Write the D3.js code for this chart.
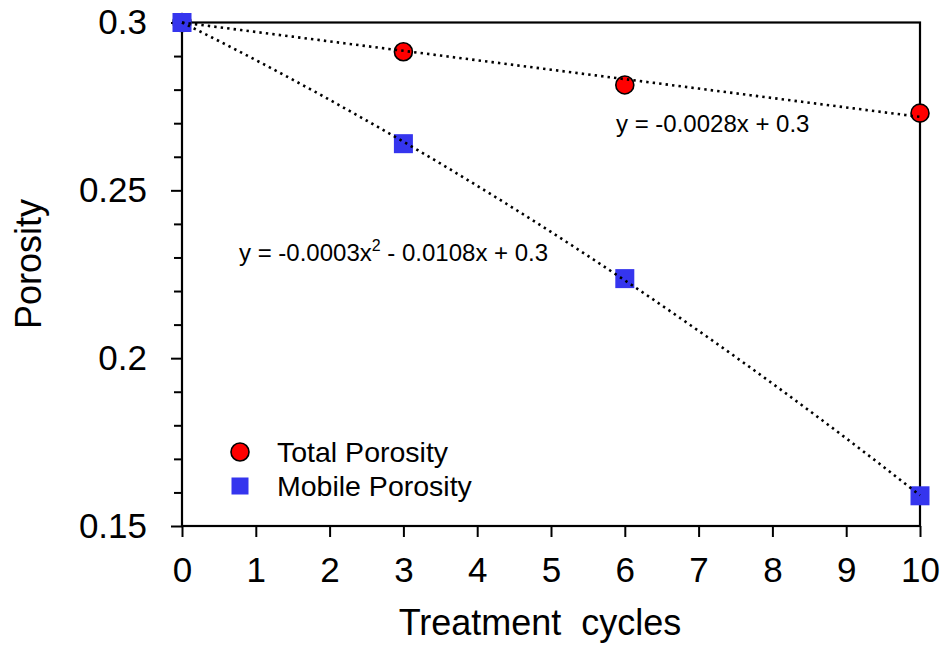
<!DOCTYPE html>
<html>
<head>
<meta charset="utf-8">
<script src="https://cdn.jsdelivr.net/npm/d3@7"></script>
<style>
  html, body { margin: 0; padding: 0; background: #fff; }
  svg { display: block; font-family: Arial, "Liberation Sans", sans-serif; }
  text { white-space: pre; }
</style>
</head>
<body>
<svg id="chart" width="945" height="646"></svg>
<script>
// Treatment cycles and measured porosity
const cycles = [0, 3, 6, 10];
const totalPorosity = [0.300, 0.2913, 0.2814, 0.2730];
const mobilePorosity = [0.300, 0.2639, 0.2237, 0.1590];

// Axis ticks
const xTicks = [0, 1, 2, 3, 4, 5, 6, 7, 8, 9, 10];
const yMajorTicks = [0.15, 0.2, 0.25, 0.3];
const yMajorLabels = ["0.15", "0.2", "0.25", "0.3"];
const yMinorTicks = [0.16, 0.17, 0.18, 0.19, 0.21, 0.22, 0.23, 0.24, 0.26, 0.27, 0.28, 0.29];

// Text
const legendLabels = ["Total Porosity", "Mobile Porosity"];
const xTitle = "Treatment  cycles";
const yTitle = "Porosity";
const totalEquation = "y = -0.0028x + 0.3";
const mobileEquation = ["y = -0.0003x", "2", " - 0.0108x + 0.3"];

const svg = d3.select("#chart");
const plotLeft = 182, plotRight = 920, plotTop = 22.5, plotBottom = 526;

const x = d3.scaleLinear().domain([0, 10]).range([plotLeft, plotRight]);
const y = d3.scaleLinear().domain([0.15, 0.3]).range([plotBottom, plotTop]);

// Least-squares polynomial fit with the intercept held at the first value
function fitThroughIntercept(xs, ys, degree) {
  const c = ys[0];
  const d = ys.map(v => v - c);
  if (degree === 1) {
    const b = d3.sum(xs, (v, i) => v * d[i]) / d3.sum(xs, v => v * v);
    return t => c + b * t;
  }
  const s2 = d3.sum(xs, v => v ** 2), s3 = d3.sum(xs, v => v ** 3), s4 = d3.sum(xs, v => v ** 4);
  const r2 = d3.sum(xs, (v, i) => v * v * d[i]), r1 = d3.sum(xs, (v, i) => v * d[i]);
  const det = s4 * s2 - s3 * s3;
  const a = (r2 * s2 - s3 * r1) / det;
  const b = (s4 * r1 - s3 * r2) / det;
  return t => c + a * t * t + b * t;
}

const totalFit = fitThroughIntercept(cycles, totalPorosity, 1);
const mobileFit = fitThroughIntercept(cycles, mobilePorosity, 2);

// Axes
const xAxis = d3.axisBottom(x).tickValues(xTicks).tickSize(11).tickPadding(20).tickFormat(d3.format("d"));
const gx = svg.append("g").attr("transform", `translate(0,${plotBottom})`).call(xAxis);
gx.select(".domain").remove();
gx.selectAll(".tick line").attr("stroke", "#000").attr("stroke-width", 2);
gx.selectAll(".tick text").attr("font-size", 35).attr("fill", "#000")
  .attr("font-family", "Arial, 'Liberation Sans', sans-serif").attr("dy", "0.71em");

const yAxis = d3.axisLeft(y).tickValues(yMajorTicks).tickSize(11).tickPadding(24)
  .tickFormat((d, i) => yMajorLabels[i]);
const gy = svg.append("g").attr("transform", `translate(${plotLeft},0)`).call(yAxis);
gy.select(".domain").remove();
gy.selectAll(".tick line").attr("stroke", "#000").attr("stroke-width", 2);
gy.selectAll(".tick text").attr("font-size", 35).attr("fill", "#000")
  .attr("font-family", "Arial, 'Liberation Sans', sans-serif");

const yMinor = d3.axisLeft(y).tickValues(yMinorTicks).tickSize(8).tickFormat("");
const gym = svg.append("g").attr("transform", `translate(${plotLeft},0)`).call(yMinor);
gym.select(".domain").remove();
gym.selectAll(".tick line").attr("stroke", "#000").attr("stroke-width", 2);

// Frame
svg.append("rect")
  .attr("x", plotLeft).attr("y", plotTop)
  .attr("width", plotRight - plotLeft).attr("height", plotBottom - plotTop)
  .attr("fill", "none").attr("stroke", "#000").attr("stroke-width", 2.2);

// Markers
svg.append("g").selectAll("circle")
  .data(cycles.map((c, i) => [c, totalPorosity[i]]))
  .join("circle")
  .attr("cx", d => x(d[0])).attr("cy", d => y(d[1]))
  .attr("r", 9).attr("fill", "#ff0000").attr("stroke", "#000").attr("stroke-width", 1.6);

const sq = 19;
svg.append("g").selectAll("rect")
  .data(cycles.map((c, i) => [c, mobilePorosity[i]]))
  .join("rect")
  .attr("x", d => x(d[0]) - sq / 2).attr("y", d => y(d[1]) - sq / 2)
  .attr("width", sq).attr("height", sq).attr("fill", "#3535ee");

// Trend lines
const samples = d3.range(0, 10.001, 0.1);
const line = f => d3.line().x(t => x(t)).y(t => y(f(t)))(samples);
[totalFit, mobileFit].forEach(f => {
  svg.append("path").attr("d", line(f))
    .attr("fill", "none").attr("stroke", "#000").attr("stroke-width", 2.6)
    .attr("stroke-dasharray", "2.4 4.1");
});

// Equations
svg.append("text").attr("x", 616).attr("y", 132).attr("font-size", 24).attr("fill", "#000")
  .text(totalEquation);
const eq2 = svg.append("text").attr("x", 239).attr("y", 261).attr("font-size", 24).attr("fill", "#000");
eq2.append("tspan").text(mobileEquation[0]);
eq2.append("tspan").attr("font-size", 16).attr("dy", -10).text(mobileEquation[1]);
eq2.append("tspan").attr("dy", 10).text(mobileEquation[2]);

// Legend
const legendY = [452, 486];
svg.append("circle").attr("cx", 240).attr("cy", legendY[0]).attr("r", 9)
  .attr("fill", "#ff0000").attr("stroke", "#000").attr("stroke-width", 1.6);
svg.append("rect").attr("x", 240 - 8.5).attr("y", legendY[1] - 8.5).attr("width", 17).attr("height", 17)
  .attr("fill", "#3535ee");
legendLabels.forEach((t, i) => {
  svg.append("text").attr("x", 277).attr("y", legendY[i]).attr("dy", "0.35em")
    .attr("font-size", 28.5).attr("fill", "#000").text(t);
});

// Axis titles
svg.append("text").attr("x", 540).attr("y", 635).attr("text-anchor", "middle")
  .attr("font-size", 36).attr("fill", "#000").text(xTitle);
svg.append("text").attr("transform", "translate(41,264) rotate(-90)").attr("text-anchor", "middle")
  .attr("font-size", 36).attr("fill", "#000").text(yTitle);
</script>
</body>
</html>
